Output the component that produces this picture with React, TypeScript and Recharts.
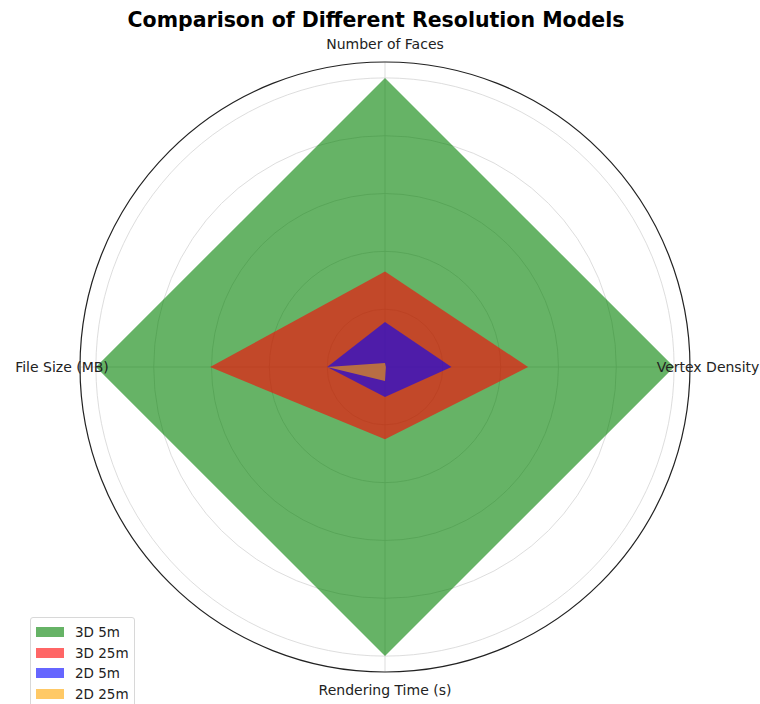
import { RadarChart, Radar, PolarGrid, PolarAngleAxis, PolarRadiusAxis } from 'recharts'

const categories = ['Number of Faces', 'Vertex Density', 'Rendering Time (s)', 'File Size (MB)']
const seriesNames = ['3D 5m', '3D 25m', '2D 5m', '2D 25m']
const model3d5m = [1.0, 1.0, 1.0, 1.0]
const model3d25m = [0.33, 0.495, 0.25, 0.605]
const model2d5m = [0.156, 0.23, 0.104, 0.2]
const model2d25m = [0.014, 0.003, 0.048, 0.2]
const ringValues = [0.2, 0.4, 0.6, 0.8, 1.0]
const radiusMax = 1.055

const colors = ['#008000', '#ff0000', '#0000ff', '#ffa500']
const keys = ['s0', 's1', 's2', 's3']
const allSeries = [model3d5m, model3d25m, model2d5m, model2d25m]

const data = categories.map((name, i) => {
  const row: Record<string, string | number> = { name }
  allSeries.forEach((s, j) => {
    row[keys[j]] = s[i]
  })
  return row
})

const W = 760
const H = 704
const CX = 385
const CY = 367
const OUTER = 305

const font = '"DejaVu Sans", sans-serif'

function AngleTick(props: any) {
  const { x, y, payload } = props
  return (
    <text x={x} y={y} textAnchor="middle" dominantBaseline="central" fontSize={14} fontFamily={font} fill="#222">
      {payload.value}
    </text>
  )
}

export default function App() {
  const rings = ringValues.map((v) => (v / radiusMax) * OUTER)
  return (
    <div style={{ position: 'absolute', left: 0, top: 0, width: W, height: H, background: '#fff', fontFamily: font }}>
      <div
        style={{
          position: 'absolute',
          left: 0,
          top: 8,
          width: W - 8,
          textAlign: 'center',
          fontSize: 20.5,
          fontWeight: 'bold',
          color: '#000',
        }}
      >
        Comparison of Different Resolution Models
      </div>
      <RadarChart
        width={W}
        height={H}
        data={data}
        cx={CX}
        cy={CY}
        outerRadius={OUTER}
        margin={{ top: 0, right: 0, bottom: 0, left: 0 }}
        style={{ position: 'absolute', left: 0, top: 0 }}
      >
        <PolarAngleAxis dataKey="name" tick={<AngleTick />} tickLine={false} axisLine={false} tickSize={18} />
        <PolarRadiusAxis domain={[0, radiusMax]} tick={false} axisLine={false} />
        {keys.map((k, j) => (
          <Radar
            key={k}
            name={seriesNames[j]}
            dataKey={k}
            fill={colors[j]}
            fillOpacity={0.6}
            stroke="none"
            isAnimationActive={false}
          />
        ))}
        <PolarGrid gridType="circle" polarRadius={rings} stroke="#d4d4d4" strokeOpacity={0.8} strokeWidth={1} />
        <PolarGrid gridType="circle" polarRadius={[OUTER]} radialLines={false} stroke="#222" strokeWidth={1.2} />
      </RadarChart>
      <div
        style={{
          position: 'absolute',
          left: 30,
          top: 617,
          width: 105,
          padding: '4px 0 4px 5px',
          border: '1px solid #d8d8d8',
          borderRadius: 3,
          background: 'rgba(255,255,255,0.8)',
          boxSizing: 'border-box',
        }}
      >
        {seriesNames.map((n, j) => (
          <div key={n} style={{ display: 'flex', alignItems: 'center', height: 20.5 }}>
            <div style={{ width: 28, height: 10, background: colors[j], opacity: 0.6, marginRight: 11 }} />
            <span style={{ fontSize: 13.5, color: '#222' }}>{n}</span>
          </div>
        ))}
      </div>
    </div>
  )
}
